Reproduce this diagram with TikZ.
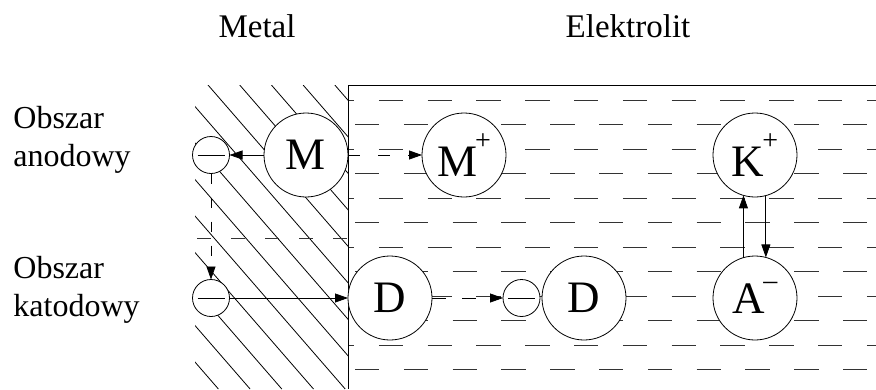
\documentclass[tikz,border=0pt]{standalone}
\usepackage{fontspec}
\setmainfont{Liberation Serif}
\usetikzlibrary{arrows.meta}

% raised charge sign after an ion letter
\newcommand{\ladunek}[2][27pt]{\kern-2pt\raisebox{#1}{\fontsize{28}{28}\selectfont #2}}

\begin{document}
\begin{tikzpicture}[
        x=1pt, y=-1pt,
        line width=0.8pt,
        >={Triangle[length=13pt, width=9pt]},
        jon/.style={
            circle,
            draw=black,
            fill=white,
            minimum size=84pt,
            inner sep=0pt,
            outer sep=0pt,
            font=\fontsize{45}{45}\selectfont
        },
        elektron/.style={
            circle,
            draw=black,
            fill=white,
            minimum size=37pt,
            inner sep=0pt,
            outer sep=0pt,
            path picture={\draw ([xshift=5pt]path picture bounding box.west) -- ([xshift=-5pt]path picture bounding box.east);}
        },
        tytul/.style={font=\fontsize{33}{38}\selectfont, inner sep=0pt, anchor=base},
        etykieta/.style={font=\fontsize{32}{38}\selectfont, inner sep=0pt, anchor=north west, align=left},
        wiersz/.style={dash pattern=on 24.4pt off 24.4pt, black!80}
    ]
        \useasboundingbox (0,0) rectangle (876,389);

        % Titles and region labels
        \node[tytul] (metal) at (257,37) {Metal};
        \node[tytul] (elektrolit) at (628,37) {Elektrolit};
        \node[etykieta] (anoda) at (13,106) {Obszar\\anodowy};
        \node[etykieta] (katoda) at (13,256) {Obszar\\katodowy};

        % Metal - hatching
        \begin{scope}
            \clip (195,85) rectangle (348,389);
            \foreach \k in {-9,...,4}
                \draw ({208+31.7*\k},85) -- ++(264,304);
        \end{scope}
        \draw[dash pattern=on 14pt off 20pt, black!80] (197,238) -- (348,238);

        % Electrolyte - rows of dashes
        \foreach \y in {100,149,198,247,296,345}
            \draw[wiersz, dash phase=18pt] (348,\y) -- (876,\y);
        \foreach \y in {124.5,173.5,222.5,271.5,320.5,369.5}
            \draw[wiersz, dash phase=41.8pt] (348,\y) -- (876,\y);
        \draw (876,85) -- (348,85) -- (348,389);

        % Ions and electrons
        \node[jon] (M) at (306,155) {M};
        \node[jon] (Mplus) at (464,155) {M\ladunek{+}};
        \node[jon] (K) at (755,155) {K\ladunek{+}};
        \node[jon] (D1) at (390,298) {D};
        \node[jon] (D2) at (584,298) {D};
        \node[jon] (A) at (755,298) {A\ladunek[24pt]{--}};
        \node[elektron] (e1) at (211,155) {};
        \node[elektron] (e2) at (211,298) {};
        \node[elektron] (e3) at (521.5,298) {};

        % Transitions
        \draw[->] (M) -- (e1);
        \draw[->, dash pattern=on 12pt off 18pt] (M) -- (Mplus);
        \draw[->, dash pattern=on 10pt off 14pt] (e1) -- (e2);
        \draw[->] (e2) -- (D1);
        \draw[->, dash pattern=on 14pt off 16pt] (D1) -- (e3);
        \draw[->] (A.106) -- (K.254);
        \draw[->] (K.285) -- (A.75);
    \end{tikzpicture}
\end{document}
